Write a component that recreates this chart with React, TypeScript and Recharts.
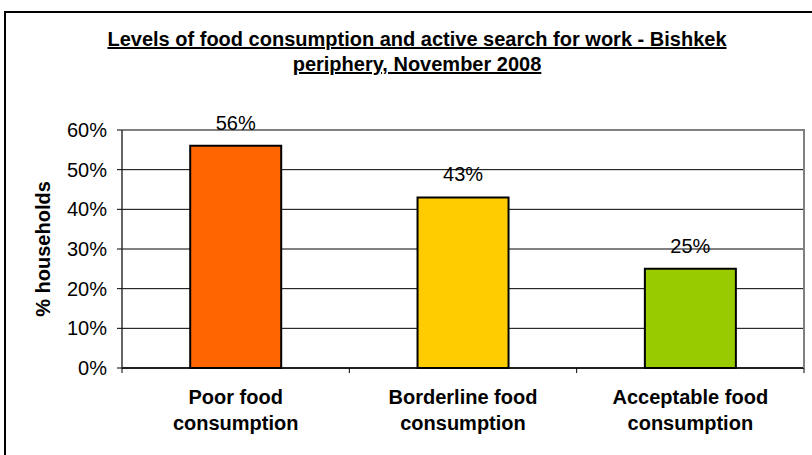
import React from 'react';
import { BarChart, Bar, XAxis, YAxis, CartesianGrid, Cell, LabelList, ReferenceLine } from 'recharts';

const categories = ['Poor food consumption', 'Borderline food consumption', 'Acceptable food consumption'];
const tickLines = [
  ['Poor food', 'consumption'],
  ['Borderline food', 'consumption'],
  ['Acceptable food', 'consumption'],
];
const shares = [56, 43, 25];
const barColors = ['#FF6600', '#FFCC00', '#99CC00'];
const yTicks = [0, 10, 20, 30, 40, 50, 60];
const titleLines = ['Levels of food consumption and active search for work - Bishkek', 'periphery, November 2008'];

const data = categories.map((name, i) => ({ name, value: shares[i] }));

const FONT = '"Liberation Sans", Arial, sans-serif';

// category labels plus the small tick marks that sit on the category boundaries
const CategoryTick = ({ x, y, payload, index }: any) => {
  const lines = tickLines[index] || [payload.value];
  const half = payload.offset || 0;
  return (
    <g>
      <line x1={x - half} x2={x - half} y1={y} y2={y + 5} stroke="#000" />
      {index === categories.length - 1 && (
        <line x1={x + half} x2={x + half} y1={y} y2={y + 5} stroke="#000" />
      )}
      {lines.map((l: string, i: number) => (
        <text
          key={i}
          x={x}
          y={y + 36 + i * 26}
          textAnchor="middle"
          fontSize={20}
          fontWeight="bold"
          fontFamily={FONT}
          fill="#000"
        >
          {l}
        </text>
      ))}
    </g>
  );
};

export default function App() {
  return (
    <div
      style={{
        position: 'absolute',
        left: 0,
        top: 0,
        width: 812,
        height: 455,
        overflow: 'hidden',
        background: '#fff',
        fontFamily: FONT,
      }}
    >
      {/* outer chart frame, runs off the right and bottom of the crop */}
      <div
        style={{
          position: 'absolute',
          left: 4,
          top: 11,
          width: 830,
          height: 470,
          border: '2px solid #000',
          boxSizing: 'border-box',
        }}
      />
      <svg width={812} height={100} style={{ position: 'absolute', left: 0, top: 0 }}>
        {titleLines.map((t, i) => (
          <text
            key={i}
            x={417}
            y={46 + i * 25}
            textAnchor="middle"
            fontSize={20}
            fontWeight="bold"
            fontFamily={FONT}
            style={{ textDecoration: 'underline' }}
            fill="#000"
          >
            {t}
          </text>
        ))}
      </svg>
      <div style={{ position: 'absolute', left: 0, top: 0 }}>
        <BarChart
          width={812}
          height={455}
          data={data}
          margin={{ top: 130, right: 8, bottom: 0, left: 0 }}
          barCategoryGap="30%"
        >
          <CartesianGrid vertical={false} stroke="#000" strokeWidth={1} />
          <XAxis
            dataKey="name"
            height={87}
            tickSize={0}
            tickMargin={0}
            tickLine={false}
            axisLine={{ stroke: '#000', strokeWidth: 1.5 }}
            tick={<CategoryTick />}
            interval={0}
          />
          <YAxis
            width={122}
            domain={[0, 60]}
            ticks={yTicks}
            tickFormatter={(v) => `${v}%`}
            tickSize={5}
            tickMargin={10}
            tick={{ fontSize: 20, fill: '#000', fontFamily: FONT }}
            axisLine={{ stroke: '#333', strokeWidth: 1.5 }}
            tickLine={{ stroke: '#000' }}
            label={{
              content: ({ viewBox }: any) => {
                const cy = viewBox.y + viewBox.height / 2;
                return (
                  <text
                    x={50}
                    y={cy}
                    transform={`rotate(-90, 50, ${cy})`}
                    textAnchor="middle"
                    fontSize={20}
                    fontWeight="bold"
                    fontFamily={FONT}
                    fill="#000"
                  >
                    % households
                  </text>
                );
              },
            }}
          />
          <ReferenceLine y={60} stroke="#808080" strokeWidth={2} ifOverflow="visible" />
          <Bar dataKey="value" stroke="#000" strokeWidth={2} isAnimationActive={false}>
            {data.map((d, i) => (
              <Cell key={d.name} fill={barColors[i]} />
            ))}
            <LabelList
              dataKey="value"
              position="top"
              offset={16}
              formatter={(v: any) => `${v}%`}
              style={{ fontSize: 20, fill: '#000', fontFamily: FONT }}
            />
          </Bar>
        </BarChart>
      </div>
      {/* grey right edge of the plot frame */}
      <div
        style={{
          position: 'absolute',
          left: 803,
          top: 129,
          width: 2,
          height: 239,
          background: '#808080',
        }}
      />
    </div>
  );
}
